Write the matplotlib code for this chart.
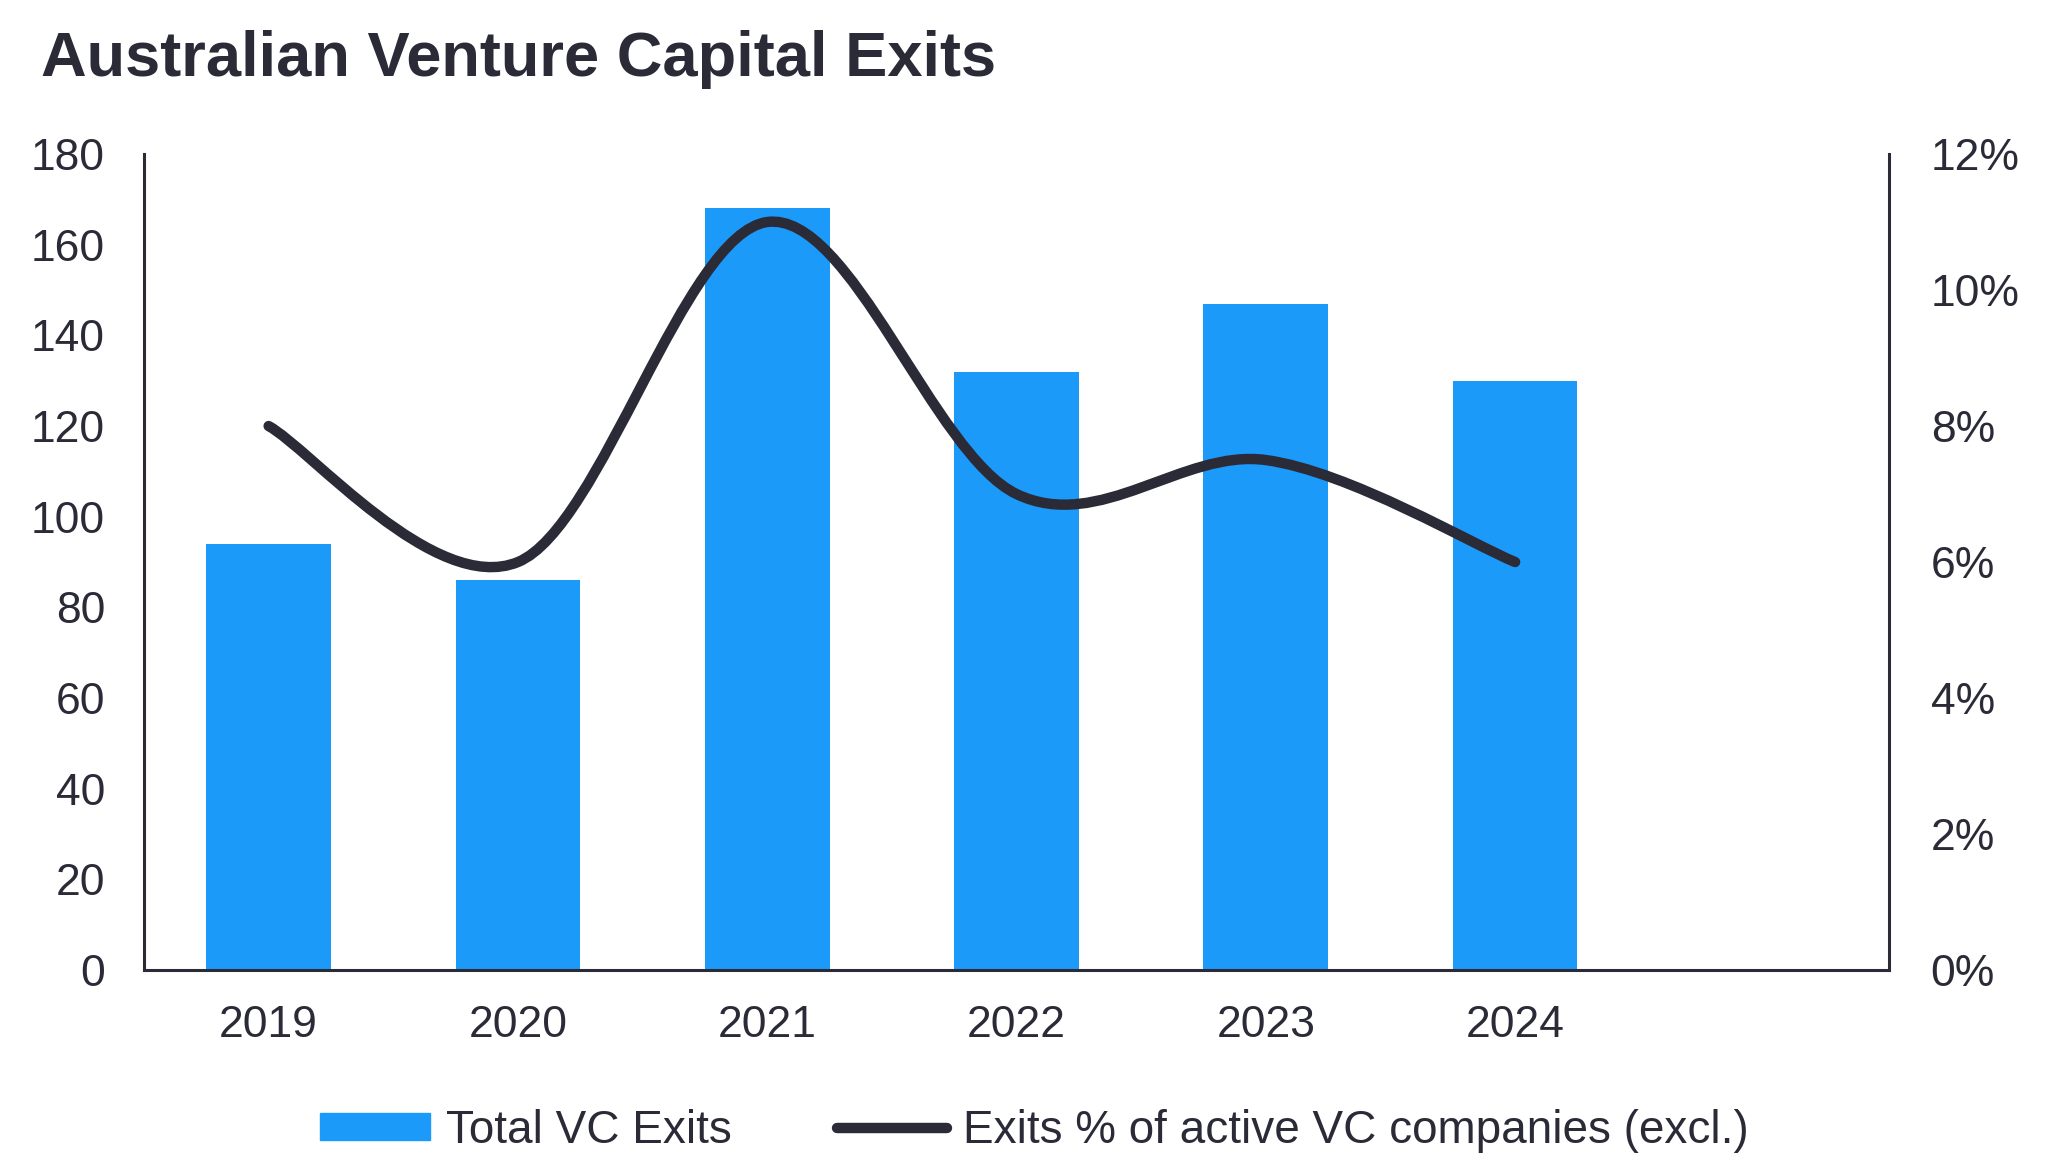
import matplotlib
matplotlib.use("Agg")
import matplotlib.pyplot as plt
from matplotlib.path import Path
from matplotlib.patches import PathPatch
from matplotlib.lines import Line2D
from matplotlib.patches import Patch

# data
years = ["2019", "2020", "2021", "2022", "2023", "2024", ""]
total_exits = [94, 86, 168, 132, 147, 130]
exit_pct = [8.0, 6.0, 11.0, 7.0, 7.5, 6.0]

left_ticks = [0, 20, 40, 60, 80, 100, 120, 140, 160, 180]
right_ticks = [0, 2, 4, 6, 8, 10, 12]

BAR = "#1B9AFA"
DARK = "#2B2B38"

plt.rcParams['font.family'] = ['Liberation Sans', 'DejaVu Sans']

fig = plt.figure(figsize=(20.48, 11.73), dpi=100)
ax = fig.add_axes([0.0703, 0.173, 0.8521, 0.6957])
ax2 = ax.twinx()

xs = list(range(len(total_exits)))
ax.bar(xs, total_exits, width=0.5, color=BAR, zorder=2)
ax.set_xlim(-0.5, len(years) - 0.5)
ax.set_ylim(0, 180)
ax.set_yticks(left_ticks)
ax.set_xticks(range(len(years)))
ax.set_xticklabels(years)

ax2.set_ylim(0, 12)
ax2.set_yticks(right_ticks)
ax2.set_yticklabels([f"{t}%" for t in right_ticks])

# smoothed line (excel style) as bezier path through the data points
pts = list(zip(xs, exit_pct))
verts = [pts[0]]
codes = [Path.MOVETO]
n = len(pts)
for i in range(n - 1):
    p0 = pts[i - 1] if i > 0 else pts[i]
    p1 = pts[i]
    p2 = pts[i + 1]
    p3 = pts[i + 2] if i + 2 < n else pts[i + 1]
    c1 = (p1[0] + (p2[0] - p0[0]) / 6, p1[1] + (p2[1] - p0[1]) / 6)
    c2 = (p2[0] - (p3[0] - p1[0]) / 6, p2[1] - (p3[1] - p1[1]) / 6)
    verts += [c1, c2, p2]
    codes += [Path.CURVE4] * 3
ax2.add_patch(PathPatch(Path(verts, codes), facecolor="none", edgecolor=DARK,
                        lw=7.5, capstyle="round", joinstyle="round", zorder=3))

for a in (ax, ax2):
    for s in a.spines.values():
        s.set_visible(False)
    a.tick_params(length=0, labelsize=32, colors=DARK)
ax.spines["left"].set_visible(True)
ax.spines["bottom"].set_visible(True)
ax2.spines["right"].set_visible(True)
for s in (ax.spines["left"], ax.spines["bottom"], ax2.spines["right"]):
    s.set_color(DARK)
    s.set_linewidth(2.2)
ax.tick_params(axis="y", pad=28)
ax.tick_params(axis="x", pad=25)
ax2.tick_params(axis="y", pad=30)

fig.text(0.02, 0.935, "Australian Venture Capital Exits", fontsize=45.5,
         fontweight="bold", color=DARK, va="baseline")

handles = [Patch(color=BAR), Line2D([0], [0], color=DARK, lw=7.5, solid_capstyle="round")]
labels = ["Total VC Exits", "Exits % of active VC companies (excl.)"]
fig.legend(handles, labels, loc="center", bbox_to_anchor=(0.505, 0.036), ncol=2,
           frameon=False, fontsize=33, handlelength=2.4, handleheight=0.55,
           handletextpad=0.35, columnspacing=2.3, labelcolor=DARK)

fig.savefig("out.png", dpi=100)
